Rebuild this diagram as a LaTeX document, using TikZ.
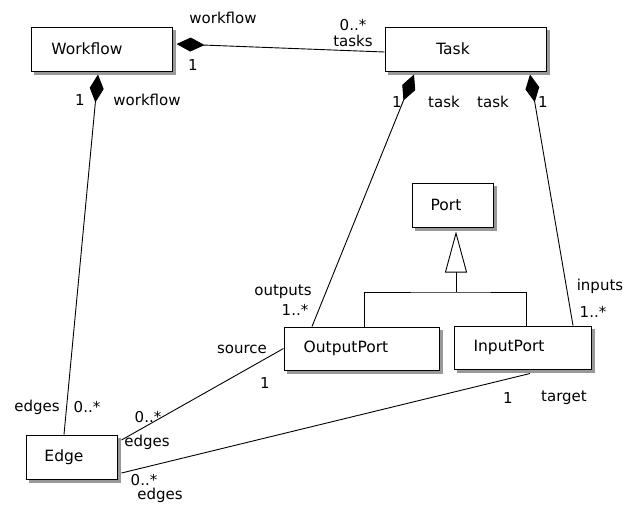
\documentclass[tikz,border=0pt]{standalone}
\usepackage{fontspec}
\setmainfont{DejaVu Sans}
\usetikzlibrary{arrows.meta,backgrounds}
\begin{document}
\begin{tikzpicture}[x=1pt,y=-1pt,
  cls/.style={draw=black, line width=1pt, fill=white, rectangle, inner sep=0pt,
    font=\fontsize{15.5pt}{18pt}\selectfont},
  shade box/.style={fill=black!40, draw=none},
  lbl/.style={inner sep=0pt, font=\fontsize{15pt}{18pt}\selectfont},
  assoc/.style={draw=black, line width=0.9pt},
  comp/.style={assoc, {Diamond[length=28pt,width=14pt]}-},
  gen/.style={assoc, -{Triangle[open,length=41pt,width=22pt]}}
]
\useasboundingbox (0,0) rectangle (623,504);

% classes
\node[cls, minimum width=141pt, minimum height=44pt] (wf) at (101.5,49) {Workflow\hspace*{29pt}};
\node[cls, minimum width=161pt, minimum height=44pt] (task) at (465.5,49) {Task\hspace*{25pt}};
\node[cls, minimum width=81pt, minimum height=44pt] (port) at (452.5,205) {Port\hspace*{13pt}};
\node[cls, minimum width=155pt, minimum height=43pt] (op) at (361.5,348.5) {OutputPort\hspace*{31pt}};
\node[cls, minimum width=137pt, minimum height=43pt] (ip) at (522.5,347.5) {InputPort\hspace*{27pt}};
\node[cls, minimum width=91pt, minimum height=44pt] (edge) at (71.5,457) {Edge\hspace*{15pt}};

% shadows
\begin{scope}[on background layer]
\foreach \n in {wf,task,port,op,ip,edge}
  \fill[shade box] ([shift={(3pt,-3pt)}]\n.south west) rectangle ([shift={(3pt,-3pt)}]\n.north east);
\end{scope}

% compositions
\draw[comp] ([xshift=4pt,yshift=5pt]wf.east) -- ([yshift=-3pt]task.west);
\draw[comp] ([xshift=-3.5pt,yshift=-3pt]wf.south) -- ([xshift=-7.5pt]edge.north);
\draw[comp] ([xshift=-51.5pt,yshift=-3pt]task.south) -- ([xshift=-49.5pt]op.north);
\draw[comp] ([xshift=64.5pt,yshift=-3pt]task.south) -- ([xshift=50.5pt]ip.north);

% associations
\draw[assoc] ([xshift=4pt,yshift=17pt]edge.east) -- (op.west);
\draw[assoc] ([xshift=4pt,yshift=-16pt]edge.east) -- ([xshift=7.5pt,yshift=-4pt]ip.south);

% generalization
\coordinate (j) at (456,292);
\draw[assoc] ([xshift=2.5pt]op.north) |- (j) -| ([xshift=3.5pt]ip.north);
\draw[gen] (j) -- ([xshift=3.5pt,yshift=-4pt]port.south);

% labels
\node[lbl] (l1) at (223,18) {workflow};
\node[lbl] (l2) at (193,65) {1};
\node[lbl] (l3) at (353,25) {0..*};
\node[lbl] (l4) at (353,41) {tasks};
\node[lbl] (l5) at (80,100) {1};
\node[lbl] (l6) at (147,100) {workflow};
\node[lbl] (l7) at (397,102) {1};
\node[lbl] (l8) at (444,102) {task};
\node[lbl] (l9) at (493,102) {task};
\node[lbl] (l10) at (543,102) {1};
\node[lbl] (l11) at (283,292) {outputs};
\node[lbl] (l12) at (295,310) {1..*};
\node[lbl] (l13) at (600,286) {inputs};
\node[lbl] (l14) at (593,312) {1..*};
\node[lbl] (l15) at (242,349) {source};
\node[lbl] (l16) at (265,383) {1};
\node[lbl] (l17) at (37,407) {edges};
\node[lbl] (l18) at (87,407) {0..*};
\node[lbl] (l19) at (148,417) {0..*};
\node[lbl] (l20) at (147,442) {edges};
\node[lbl] (l21) at (508,398) {1};
\node[lbl] (l22) at (564,398) {target};
\node[lbl] (l23) at (144,480) {0..*};
\node[lbl] (l24) at (160,495) {edges};
\end{tikzpicture}
\end{document}
